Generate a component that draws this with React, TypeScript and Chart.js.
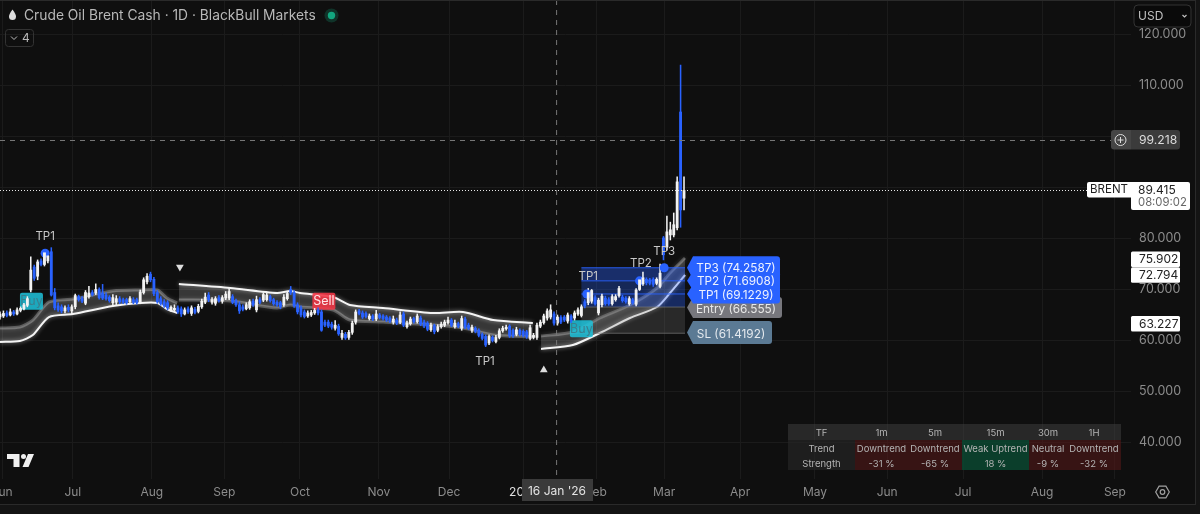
import React, { useEffect, useRef } from "react";
import { Chart, registerables } from "chart.js";

Chart.register(...registerables);

const opens = [
  64.6,64.8,65.4,65,65.6,65.2,65.9,66.2,66.9,69.9,
  74.4,72.6,75.6,74.9,75.6,77.4,69.4,66.8,66.6,65.8,
  66.5,65.8,66.6,68.6,68.2,67.3,68.6,69.4,69.3,70,
  69.3,68.9,68.5,67.4,67.5,68.2,68,68,67.6,68,
  68,67.5,69.4,71.5,73,72,69.4,68.2,67.6,67.4,
  66,66,66.4,66.2,65.2,66.2,65.3,66.1,65.7,66.6,
  67.5,68.9,67.5,67.3,68.4,67.7,68.3,68.3,68.6,67.8,
  67,66.6,66.2,66.4,67.7,66,68,67.9,68,68.6,
  68,67.5,67.4,67,68.2,70,69.4,67,66.4,65.6,
  64.8,65,65.4,66,65.6,63.6,63.6,63.2,62.4,62.8,
  60.6,61.2,60.6,61.6,63.6,65.8,65.4,65.3,64.3,64.8,
  64.2,65,64.8,64.6,64.4,63.6,64,63.6,65.2,62.7,
  63.3,64.3,63.7,64.4,63.6,63.4,62.1,62.9,62,62.7,
  63,63.5,64,62.7,63.3,62.4,64.2,63,62,62.4,
  62,61.2,60.8,59.5,60.6,59.8,60.6,61.9,62.3,62.8,
  62,61.2,62,61.8,61.7,60.4,60.6,60.6,62.8,63.5,
  64.4,64.6,65.2,63.4,64.5,64.6,63.8,64.8,64.4,65.2,
  64.9,67.6,67.4,67.7,68.4,65.4,67,68.3,68,67.2,
  68,68.8,68.5,68.3,67.2,68,67.1,70,71.1,72,
  71.9,72,71.2,70.6,80.1,78.3,80.7,80.7,82.1,104.8,
  87.9,
];
const closes = [
  65.2,65.3,64.9,65.6,65.2,66,66.3,67,68.2,73.8,
  72.2,75.4,74.9,77.2,76.6,68.9,66.4,66,65.8,66.4,
  66,66.6,68.8,68,67.7,69.4,69.3,69,70,68.4,
  68.3,68.2,67.8,68.4,68.2,67.6,67.5,67.4,68.2,67.5,
  67.4,69.5,71.9,72.6,71.9,69.2,67.6,67.2,66.8,66.4,
  66.5,66.3,65.6,65.2,66,65.6,66.4,65.5,66.7,67.7,
  68.5,68,68,68.2,67.8,68.4,69.1,69.6,67.5,67,
  65.8,66.1,67,67.6,67,68,67.5,69,68.9,67.8,
  67.2,67,66.6,68.5,69.2,69.4,66.8,65.6,65,64.7,
  65.4,65.5,65.9,65.4,62,63,62.8,62.6,63,61.3,
  61.4,60.5,61.6,63.4,65.6,65.3,64.6,64.7,64.8,64.2,
  65.2,64.5,64.3,64,63.8,64.2,63.4,65,63,63.4,
  64.2,63.7,64.8,63.2,62.8,62.2,63,61.7,62.7,63.2,
  63.6,64,63,63.4,62.8,64.3,62.6,62.4,62.6,61.8,
  61,60.4,59.1,60.8,60,60.6,61.9,62.4,62.6,60.9,
  60.9,62.1,61.2,61,60.7,62.5,61,63,63.6,64.8,
  65.8,66,63.4,64.6,63.6,64,65,63.9,65.4,66,
  66.6,66.8,69.4,69.8,67.2,67.9,68.7,67.2,67.2,68.6,
  68.6,70.2,67.8,67.6,68.2,67.4,69.9,71.9,72.3,71.3,
  71.2,71,72,73.2,76.8,81.3,81.7,82.7,91.1,85.6,
  89.415,
];
const highs = [
  65.6,65.8,65.8,66.2,65.9,66.4,66.6,67.3,68.6,76.4,
  74.8,75.8,76,77.6,77,78.2,70.2,67.4,67,66.8,
  67,67,69.1,68.9,68.6,69.8,70.6,69.8,71.1,70.3,
  71,69.4,68.8,69,68.8,68.6,68.3,68.3,68.6,68.4,
  68.3,69.9,72.3,73.1,73.4,72.4,69.8,68.6,68,67.8,
  66.8,67,66.8,66.6,66.4,66.6,66.8,66.5,67.1,68.1,
  69.3,69.4,68.4,68.6,68.8,68.8,69.6,70.4,69,68.1,
  67.6,67,67.4,68,68.1,68.7,68.4,69.4,69.3,68.9,
  68.3,67.8,67.7,69,69.6,70.6,69.8,67.4,66.8,66,
  65.8,65.9,66.3,66.4,66,64,64,63.6,63.9,63.2,
  62,61.6,62,63.8,66,66.1,65.8,65.6,65.2,65.1,
  65.9,65.3,65.1,64.9,64.7,64.8,64.4,65.6,65.6,63.8,
  64.6,64.6,65.2,64.8,64,63.7,63.4,63.2,63.1,63.6,
  64,64.6,64.3,64,63.6,64.8,64.6,63.4,63,62.7,
  62.3,61.5,61.1,61.1,60.9,61,62.3,62.8,63,63.1,
  62.3,62.6,62.3,62.1,62,63,61.4,63.4,64,65.2,
  66.2,67,65.6,65,64.9,64.9,65.4,65.1,65.8,66.4,
  67,68,70.2,70,68.8,68.3,69.1,68.7,68.4,69,
  69,70.6,68.9,68.6,68.6,68.3,70.2,72.3,73.4,72.3,
  72.2,72.3,72.3,75,80.4,84.4,83.2,85,92.1,114,
  92.1,
];
const lows = [
  64.2,64.5,64.6,64.8,64.9,65,65.6,66,66.6,69.5,
  71.8,71.9,74.6,74.6,75.2,68.7,66,65.7,65.4,65.4,
  65.6,65.2,66.2,67.7,67.4,67,68.3,68.7,69,68.1,
  68,67.9,67.5,66.8,67,67.2,67.2,67.1,67.2,67.2,
  67.1,67.2,69.1,71.1,71.5,68.8,67.3,66.9,66.5,66,
  65.7,65.6,65.3,64.7,65,65.3,64.9,65.2,65.4,66.3,
  67.2,67.6,67.1,66.9,67.5,67.3,68,68,67.2,66.7,
  65.3,65.8,66,66.1,66.7,65.6,67.2,67.6,67.7,67.5,
  66.9,66.7,66.2,66.7,67.9,69,66.5,65.2,64.6,64.4,
  64.5,64.7,65.1,65,61.8,62.7,62.5,62.2,62,61,
  60.2,60.2,60.2,61.2,63.2,65,64.3,64.4,64,63.9,
  63.9,64.2,64,63.7,63.5,63.2,63.1,63.3,62.7,62.4,
  63,63.4,63.4,62.9,62.5,61.9,61.8,61.3,61.7,62.4,
  62.7,63.2,62.7,62.4,62.5,62,62.3,62.1,61.6,61.5,
  60.7,60.1,58.8,59.2,59.7,59.5,60.3,61.6,62,60.6,
  60.6,60.9,60.9,60.7,60.4,60.1,60.3,60.2,62.5,63.2,
  64,64.2,63,63,63.3,63.7,63.4,63.5,64,64.9,
  64.6,66.4,67,67.3,66.9,65,66.6,66.9,66.9,66.9,
  67.7,68.5,67.5,67.3,66.9,67.1,66.8,69.8,70.8,70.9,
  70.9,70.6,70.9,70.3,75.8,77.7,79.7,80.3,81.7,82.2,
  85.6,
];

const bandIdxA = [0,5.8,9.6,14.3,21.3,33,41,46,48.8,51.8];
const bandUpperA = [62.45,62.64,64.01,67.54,68.13,69.7,69.9,69.9,68.33,67.35];
const bandLowerA = [59.7,59.9,61.07,64.6,65.19,66.76,67.35,67.35,66.17,65.39];

const bandIdxB = [52.3,67.3,81,84.8,87.7,97.4,102.3,112,126.6,135.4,144.2,155.8];
const bandUpperB = [71.07,70.29,69.31,69.7,69.31,68.53,66.96,66.37,65.39,65.58,64.01,63.43];
const bandLowerB = [67.94,67.74,66.37,66.96,66.56,65.98,64.01,63.6,63.03,62.45,61.07,60.68];

const bandIdxC = [158.2,167.5,175.4,184.2,192.1,195.9,200.3];
const bandUpperC = [60.88,61.66,64.41,66.96,70.29,73.23,76.17];
const bandLowerC = [58.33,59.11,61.47,64.41,66.56,69.31,72.84];

const yTicks = [40,50,60,70,80,90,100,110,120];
const yHidden = [90,100];
const monthTicks = [0.6,21.3,44.4,65.6,87.7,110.8,131.3,153.2,174.4,194.2,216.4,238.3,259.4,281.6,304.7,326];
const monthLabels = ["Jun","Jul","Aug","Sep","Oct","Nov","Dec","2026","Feb","Mar","Apr","May","Jun","Jul","Aug","Sep"];

const tpIdx = [13.2,171.6,187,194.2];
const tpPrices = [77.1,69.1229,71.6908,74.2587];
const triIdx = [52.6,159];
const triPrices = [74.4,54.2];

const markLabels = ["TP1","TP1","TP1","TP2","TP3"];
const markIdx = [13.2,141.8,172,187.4,194.2];
const markPrices = [80.3,55.8,72.6,75,77.5];

const signalLabels = ["Buy","Sell","Buy"];
const signalIdx = [9.2,94.7,170];
const signalPrices = [67.7,67.7,62.3];

const entryPrice = 66.555;
const slPrice = 61.4192;
const tp1Price = 69.1229;
const tp2Price = 71.6908;
const tp3Price = 74.2587;
const tradeStartIdx = 170;
const riskStartIdx = 166.8;
const tradeEndIdx = 200.3;

const cursorIdx = 162.6;
const cursorPrice = 99.218;
const lastPrice = 89.415;
const sideLevels = [75.902,72.794,63.227];

const tableHeads = ["TF","1m","5m","15m","30m","1H"];
const tableTrend = ["Trend","Downtrend","Downtrend","Weak Uptrend","Neutral","Downtrend"];
const tableStrength = ["Strength","-31 %","-65 %","18 %","-9 %","-32 %"];

const FONT = 'Inter, "Noto Sans", sans-serif';
const BG = "#0f0f0f";
const WHITE = "#f2f2f2";
const BLUE = "#2962ff";

function rr(ctx: any, x: number, y: number, w: number, h: number, r: any) {
  ctx.beginPath();
  ctx.roundRect(x, y, w, h, r);
}

function text(ctx: any, s: string, x: number, y: number, color: string, size = 12, align = "center") {
  ctx.fillStyle = color;
  ctx.font = `${size}px ${FONT}`;
  ctx.textAlign = align;
  ctx.textBaseline = "middle";
  ctx.fillText(s, x, y);
}

function tag(ctx: any, y: number, x0: number, x1: number, h: number, color: string) {
  ctx.fillStyle = color;
  ctx.beginPath();
  ctx.moveTo(x0, y);
  ctx.lineTo(x0 + 6, y - h / 2);
  ctx.lineTo(x1 - 3, y - h / 2);
  ctx.quadraticCurveTo(x1, y - h / 2, x1, y - h / 2 + 3);
  ctx.lineTo(x1, y + h / 2 - 3);
  ctx.quadraticCurveTo(x1, y + h / 2, x1 - 3, y + h / 2);
  ctx.lineTo(x0 + 6, y + h / 2);
  ctx.closePath();
  ctx.fill();
}

const tradeBoxes = {
  id: "tradeBoxes",
  beforeDatasetDraw(chart: any, args: any) {
    const { ctx, scales } = chart;
    if (args.meta.label === "bandU" || args.meta.label === "bandL") {
      ctx.save();
      ctx.shadowColor = "rgba(255,255,255,0.55)";
      ctx.shadowBlur = 4;
      return;
    }
    if (args.meta.label !== "wicks") return;
    const X = (v: number) => scales.x.getPixelForValue(v);
    const Y = (v: number) => scales.y.getPixelForValue(v);
    ctx.save();
    const xs = X(tradeStartIdx), xe = X(tradeEndIdx), xr = X(riskStartIdx);
    ctx.fillStyle = "rgba(125,125,125,0.24)";
    ctx.fillRect(xs, Y(entryPrice), xe - xs, Y(slPrice) - Y(entryPrice));
    ctx.fillStyle = "rgba(41,98,255,0.34)";
    ctx.fillRect(xs, Y(tp1Price), xe - xs, Y(entryPrice) - Y(tp1Price));
    ctx.fillStyle = "rgba(41,98,255,0.30)";
    ctx.fillRect(xs, Y(tp2Price), xe - xs, Y(tp1Price) - Y(tp2Price));
    ctx.fillStyle = "rgba(41,98,255,0.38)";
    ctx.fillRect(xs, Y(tp3Price), xe - xs, Y(tp2Price) - Y(tp3Price));
    ctx.lineWidth = 1;
    ctx.strokeStyle = "rgba(120,120,120,0.7)";
    ctx.beginPath();
    ctx.moveTo(xs, Y(entryPrice)); ctx.lineTo(xe, Y(entryPrice));
    ctx.moveTo(xr, Y(slPrice)); ctx.lineTo(xe, Y(slPrice));
    ctx.stroke();
    ctx.strokeStyle = "rgba(41,98,255,0.9)";
    ctx.beginPath();
    for (const p of [tp1Price, tp2Price, tp3Price]) {
      ctx.moveTo(xs, Y(p)); ctx.lineTo(xe, Y(p));
    }
    ctx.stroke();
    signalLabels.forEach((s, i) => {
      const x = X(signalIdx[i]), y = Y(signalPrices[i]);
      const isSell = s === "Sell";
      ctx.fillStyle = isSell ? "rgba(242,54,69,0.88)" : "rgba(30,195,220,0.85)";
      rr(ctx, x - 11.5, y - 8.5, 23, 17, 2);
      ctx.fill();
      text(ctx, s, x, y, isSell ? "#ffe6e8" : "#3a7f8e", 12.5);
    });
    ctx.restore();
  },
  afterDatasetDraw(chart: any, args: any) {
    if (args.meta.label === "bandU" || args.meta.label === "bandL") chart.ctx.restore();
  },
};

const overlay = {
  id: "overlay",
  beforeDraw(chart: any) {
    const { ctx } = chart;
    ctx.save();
    ctx.fillStyle = BG;
    ctx.fillRect(0, 0, 1200, 514);
    ctx.restore();
  },
  afterDraw(chart: any) {
    const { ctx, scales } = chart;
    const X = (v: number) => scales.x.getPixelForValue(v);
    const Y = (v: number) => scales.y.getPixelForValue(v);
    ctx.save();

    markLabels.forEach((s, i) => text(ctx, s, X(markIdx[i]), Y(markPrices[i]), "#c8c8c8", 11.5));

    ctx.lineWidth = 1;
    ctx.strokeStyle = "#777777";
    ctx.setLineDash([5, 5]);
    ctx.beginPath();
    ctx.moveTo(X(cursorIdx) + 0.5, 0);
    ctx.lineTo(X(cursorIdx) + 0.5, 479);
    ctx.moveTo(0, Math.round(Y(cursorPrice)) + 0.5);
    ctx.lineTo(1111, Math.round(Y(cursorPrice)) + 0.5);
    ctx.stroke();
    ctx.setLineDash([1, 2]);
    ctx.strokeStyle = "#e8e8e8";
    ctx.beginPath();
    ctx.moveTo(0, Math.round(Y(lastPrice)) + 0.5);
    ctx.lineTo(1088, Math.round(Y(lastPrice)) + 0.5);
    ctx.stroke();
    ctx.setLineDash([]);

    tag(ctx, 332.5, 687, 772, 23, "#5b7a94");
    text(ctx, `SL (${slPrice})`, 731, 334, "#e4e9ee", 11.8);
    tag(ctx, 307.5, 687, 782, 21, "#77777d");
    text(ctx, `Entry (${entryPrice})`, 736, 309, "#e8e8e8", 11.8);
    tag(ctx, Y(tp1Price), 687, 780, 19, BLUE);
    tag(ctx, Y(tp2Price), 687, 780, 19, BLUE);
    tag(ctx, Y(tp3Price), 687, 780, 23, BLUE);
    text(ctx, `TP3 (${tp3Price})`, 736, Y(tp3Price) + 1, "#eef2ff", 11.8);
    text(ctx, `TP2 (${tp2Price})`, 736, Y(tp2Price) + 1, "#eef2ff", 11.8);
    text(ctx, `TP1 (${tp1Price})`, 736, Y(tp1Price) + 1, "#eef2ff", 11.8);

    const cols = [788, 855, 908, 962, 1029, 1067, 1121];
    const rows = [424, 440, 456, 470];
    ctx.fillStyle = "rgba(62,62,62,0.55)";
    ctx.fillRect(788, 424, 333, 16);
    ctx.fillStyle = "rgba(40,40,40,0.6)";
    ctx.fillRect(788, 440, 67, 30);
    for (let c = 1; c < 6; c++) {
      ctx.fillStyle = c === 3 ? "rgba(10,70,48,0.85)" : "rgba(80,24,24,0.62)";
      ctx.fillRect(cols[c], 440, cols[c + 1] - cols[c], 30);
    }
    [tableHeads, tableTrend, tableStrength].forEach((row, r) => {
      row.forEach((s, c) => {
        text(ctx, s, (cols[c] + cols[c + 1]) / 2, (rows[r] + rows[r + 1]) / 2 + 1, "#b4b4b4", 9.5);
      });
    });

    ctx.fillStyle = "#3a3a3a";
    ctx.fillRect(522, 479, 71, 22);
    text(ctx, "16 Jan '26", 557, 491, "#e4e4e4", 12);

    ctx.fillStyle = "#454545";
    rr(ctx, 1111, 130, 20, 19.5, [3, 0, 0, 3]);
    ctx.fill();
    ctx.fillStyle = "#3b3b3b";
    rr(ctx, 1131, 130, 49, 19.5, [0, 3, 3, 0]);
    ctx.fill();
    ctx.strokeStyle = "#dddddd";
    ctx.lineWidth = 1;
    ctx.beginPath();
    ctx.arc(1120.5, 140, 5.5, 0, Math.PI * 2);
    ctx.moveTo(1117.5, 140); ctx.lineTo(1123.5, 140);
    ctx.moveTo(1120.5, 137); ctx.lineTo(1120.5, 143);
    ctx.stroke();
    text(ctx, String(cursorPrice), 1139, 140.5, "#dcdcdc", 12.2, "left");

    ctx.fillStyle = "#ffffff";
    rr(ctx, 1087, 182, 44, 15.5, [2, 0, 0, 2]);
    ctx.fill();
    text(ctx, "BRENT", 1109, 190, "#222222", 11.5);
    ctx.fillStyle = "#ffffff";
    rr(ctx, 1131, 182, 59, 28, [0, 2, 2, 2]);
    ctx.fill();
    text(ctx, String(lastPrice), 1138, 190, "#222222", 12, "left");
    text(ctx, "08:09:02", 1138, 203, "#666666", 11.3, "left");

    sideLevels.forEach((v) => {
      const y = Y(v);
      ctx.fillStyle = "#ffffff";
      rr(ctx, 1131, y - 8, 49, 15.5, 1.5);
      ctx.fill();
      text(ctx, v.toFixed(3), 1139, y, "#222222", 12, "left");
    });

    ctx.fillStyle = "#0a0a0a";
    rr(ctx, 1134, 5, 57, 22, 4);
    ctx.fill();
    ctx.strokeStyle = "#333333";
    ctx.stroke();
    text(ctx, "USD", 1138, 16, "#c0c0c0", 12, "left");
    ctx.strokeStyle = "#c0c0c0";
    ctx.lineWidth = 1.2;
    ctx.beginPath();
    ctx.moveTo(1182.5, 15); ctx.lineTo(1184.5, 17); ctx.lineTo(1186.5, 15);
    ctx.stroke();

    ctx.fillStyle = "#dedede";
    ctx.beginPath();
    ctx.moveTo(12.5, 9.5);
    ctx.bezierCurveTo(15, 13, 16, 15, 16, 16.5);
    ctx.arc(12.5, 16.5, 3.5, 0, Math.PI);
    ctx.bezierCurveTo(9, 15, 10, 13, 12.5, 9.5);
    ctx.fill();
    text(ctx, "Crude Oil Brent Cash · 1D · BlackBull Markets", 24, 15.5, "#b8b8b8", 13.8, "left");
    ctx.fillStyle = "rgba(20,160,120,0.25)";
    ctx.beginPath(); ctx.arc(331.5, 15.5, 7, 0, Math.PI * 2); ctx.fill();
    ctx.fillStyle = "#12a67f";
    ctx.beginPath(); ctx.arc(331.5, 15.5, 3.7, 0, Math.PI * 2); ctx.fill();
    ctx.strokeStyle = "#333333";
    ctx.lineWidth = 1;
    rr(ctx, 5.5, 29.5, 28, 17, 3);
    ctx.stroke();
    ctx.strokeStyle = "#bbbbbb";
    ctx.beginPath();
    ctx.moveTo(11, 36.5); ctx.lineTo(14, 39.5); ctx.lineTo(17, 36.5);
    ctx.stroke();
    text(ctx, "4", 26, 38.5, "#b8b8b8", 12);

    ctx.fillStyle = "#f0f0f0";
    ctx.beginPath();
    ctx.moveTo(7, 454); ctx.lineTo(19.5, 454); ctx.lineTo(19.5, 467); ctx.lineTo(13.5, 467);
    ctx.lineTo(13.5, 459); ctx.lineTo(7, 459); ctx.closePath();
    ctx.moveTo(28, 454); ctx.lineTo(34, 454); ctx.lineTo(28.5, 467); ctx.lineTo(22.5, 467);
    ctx.closePath();
    ctx.fill();
    ctx.beginPath(); ctx.arc(23.5, 456.5, 2.5, 0, Math.PI * 2); ctx.fill();

    ctx.strokeStyle = "#a0a0a0";
    ctx.lineWidth = 1.2;
    ctx.beginPath();
    for (let k = 0; k < 6; k++) {
      const a = (Math.PI / 3) * k;
      const px = 1162.5 + 6.8 * Math.cos(a), py = 492 + 6.8 * Math.sin(a);
      if (k === 0) ctx.moveTo(px, py); else ctx.lineTo(px, py);
    }
    ctx.closePath();
    ctx.stroke();
    ctx.beginPath(); ctx.arc(1162.5, 492, 2.3, 0, Math.PI * 2); ctx.stroke();

    ctx.fillStyle = "#141414";
    ctx.fillRect(0, 504, 1200, 10);
    ctx.fillRect(1195, 0, 5, 514);
    ctx.fillStyle = "#2a2a2a";
    ctx.fillRect(0, 504, 1196, 1);
    ctx.fillRect(1195, 0, 1, 505);
    ctx.fillRect(0, 0, 1196, 1);
    ctx.restore();
  },
};

const xy = (xs: number[], ys: number[]) => xs.map((x, i) => ({ x, y: ys[i] }));

const bandFill = "rgba(255,255,255,0.17)";
function bandPair(idx: number[], up: number[], low: number[], upperBright: boolean) {
  const bright = { borderColor: "#f4f4f4", borderWidth: 2 };
  const dim = { borderColor: "rgba(200,200,200,0.35)", borderWidth: 3 };
  return [
    {
      type: "line", label: "bandU", order: 5, data: xy(idx, up), pointRadius: 0, tension: 0.25,
      fill: { target: "+1", above: bandFill, below: bandFill },
      ...(upperBright ? bright : dim),
    },
    {
      type: "line", label: "bandL", order: 5, data: xy(idx, low), pointRadius: 0, tension: 0.25,
      fill: false,
      ...(upperBright ? dim : bright),
    },
  ];
}

export default function App() {
  const ref = useRef<HTMLCanvasElement>(null);
  useEffect(() => {
    document.body.style.margin = "0";
    document.body.style.background = BG;
    const idx = opens.map((_, i) => i);
    const colors = opens.map((o, i) => (closes[i] >= o ? WHITE : BLUE));
    const chart = new Chart(ref.current as any, {
      type: "bar",
      data: {
        datasets: [
          ...bandPair(bandIdxA, bandUpperA, bandLowerA, false),
          ...bandPair(bandIdxB, bandUpperB, bandLowerB, true),
          ...bandPair(bandIdxC, bandUpperC, bandLowerC, false),
          {
            type: "bar", label: "wicks", order: 3, grouped: false, barThickness: 0.9, borderWidth: 0,
            data: idx.map((i) => ({ x: i, y: [lows[i], highs[i]] })),
            backgroundColor: colors, borderSkipped: false,
          },
          {
            type: "line", label: "tp", order: 2.5, showLine: false, data: xy(tpIdx, tpPrices),
            pointRadius: 4.5, pointBackgroundColor: BLUE, pointBorderWidth: 0,
          },
          {
            type: "bar", label: "bodies", order: 2, grouped: false, barThickness: 2.2, borderWidth: 0,
            data: idx.map((i) => ({ x: i, y: [opens[i], closes[i]] })),
            backgroundColor: colors, borderSkipped: false,
          },
          {
            type: "line", label: "triangles", order: 1, showLine: false, data: xy(triIdx, triPrices),
            pointStyle: "triangle", pointRadius: 4.5, pointRotation: [180, 0],
            pointBackgroundColor: "#dddddd", pointBorderWidth: 0,
          },
        ],
      } as any,
      options: {
        animation: false,
        responsive: false,
        devicePixelRatio: 1,
        layout: { padding: 0, autoPadding: false },
        plugins: { legend: { display: false }, tooltip: { enabled: false } },
        scales: {
          x: {
            type: "linear",
            offset: false,
            min: 0,
            max: 330.7,
            grid: { color: "#1b1b1b", drawTicks: false, tickLength: 0, offset: false },
            border: { display: false },
            afterBuildTicks: (s: any) => {
              s.ticks = monthTicks.map((value) => ({ value }));
            },
            afterFit: (s: any) => {
              s.height = 35;
              s.paddingLeft = 0;
              s.paddingRight = 0;
              s.paddingTop = 0;
              s.paddingBottom = 0;
            },
            ticks: {
              autoSkip: false,
              maxRotation: 0,
              padding: 6,
              font: { family: FONT, size: 12 },
              color: (c: any) => (monthLabels[c.index] === "2026" ? "#e0e0e0" : "#8c8c8c"),
              callback: (_: any, i: number) => monthLabels[i],
            },
          },
          y: {
            type: "linear",
            position: "right",
            min: 32.84,
            max: 126.76,
            grid: { color: "#1b1b1b", drawTicks: false, tickLength: 0 },
            border: { display: false },
            afterBuildTicks: (s: any) => {
              s.ticks = yTicks.map((value) => ({ value }));
            },
            afterFit: (s: any) => {
              s.width = 69;
              s.paddingTop = 0;
              s.paddingBottom = 0;
            },
            ticks: {
              padding: 8,
              font: { family: FONT, size: 12.5 },
              color: "#8c8c8c",
              callback: (v: any) => (yHidden.includes(v) ? "" : Number(v).toFixed(3)),
            },
          },
        },
      },
      plugins: [tradeBoxes, overlay],
    } as any);
    return () => chart.destroy();
  }, []);
  return <canvas ref={ref} width={1200} height={514} style={{ display: "block" }} />;
}
